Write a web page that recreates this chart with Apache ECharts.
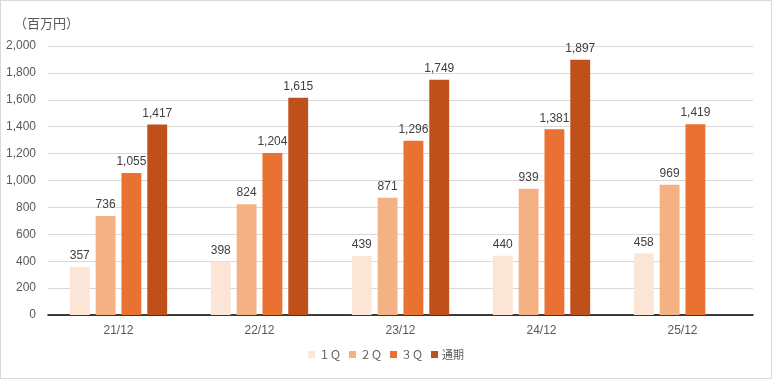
<!DOCTYPE html>
<html><head><meta charset="utf-8">
<script src="https://cdn.jsdelivr.net/npm/echarts@6/dist/echarts.min.js"></script>
<style>html,body{margin:0;padding:0;background:#fff}#c{width:772px;height:379px;box-sizing:border-box;border:1px solid #d9d9d9}</style>
</head><body><div id="c"></div>
<script>
var categories = ['21/12','22/12','23/12','24/12','25/12'];
var seriesNames = ['１Ｑ','２Ｑ','３Ｑ','通期'];
var q1 = [357, 398, 439, 440, 458];
var q2 = [736, 824, 871, 939, 969];
var q3 = [1055, 1204, 1296, 1381, 1419];
var full = [1417, 1615, 1749, 1897, null];
var colors = ['#FBE5D6','#F4B183','#E97132','#C0501A'];
var font = '"Liberation Sans","Noto Sans CJK JP",sans-serif';
var chart = echarts.init(document.getElementById('c'));
function mk(name, data, color){
  return {name:name,type:'bar',data:data,barGap:'30%',barCategoryGap:'31%',
    itemStyle:{color:color},
    label:{show:true,position:'top',distance:5,color:'#404040',fontSize:12,fontFamily:font,
      formatter:function(p){return p.value==null?'':p.value.toLocaleString('en-US');}}};
}
chart.setOption({
  animation:false,
  textStyle:{fontFamily:font},
  title:{text:'（百万円）',left:8,top:11,textStyle:{fontSize:13,fontWeight:'normal',color:'#595959',fontFamily:'"Noto Sans CJK JP",sans-serif'}},
  grid:{left:47,right:18,top:45,bottom:63,containLabel:false},
  legend:{bottom:13,left:'center',itemWidth:7,itemHeight:7,itemGap:8,icon:'rect',
    textStyle:{color:'#595959',fontSize:11,padding:[0,0,0,-1],fontFamily:'"Noto Sans CJK JP",sans-serif'},data:seriesNames},
  xAxis:{type:'category',data:categories,axisTick:{show:false},
    axisLine:{lineStyle:{color:'#000',width:1.5}},
    axisLabel:{color:'#595959',fontSize:12,margin:10,fontFamily:font}},
  yAxis:{type:'value',min:0,max:2000,interval:200,
    axisLabel:{color:'#595959',fontSize:12,margin:12,fontFamily:font,formatter:function(v){return v.toLocaleString('en-US');}},
    splitLine:{lineStyle:{color:'#d9d9d9'}},axisLine:{show:false},axisTick:{show:false}},
  series:[mk(seriesNames[0],q1,colors[0]),mk(seriesNames[1],q2,colors[1]),mk(seriesNames[2],q3,colors[2]),mk(seriesNames[3],full,colors[3])]
});
</script></body></html>
